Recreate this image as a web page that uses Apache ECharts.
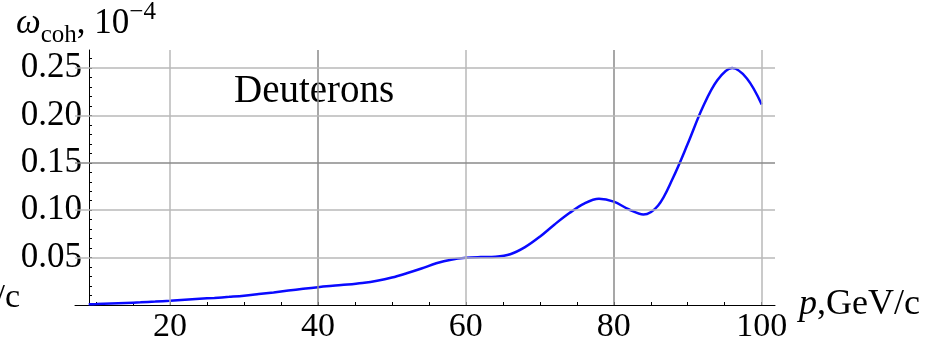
<!DOCTYPE html>
<html>
<head>
    <meta charset="utf-8">
    <title>Deuterons</title>
    <script src="https://cdn.jsdelivr.net/npm/echarts@6/dist/echarts.min.js"></script>
</head>
<body style="margin:0">
    <div id="main" style="width: 933px;height:344px;"></div>
    <script type="text/javascript">
        // momentum p, GeV/c and coherent probability (units of 1e-4)
        var momentum = [9, 10, 12, 14, 16, 18, 20, 22, 24, 26, 28, 30, 32, 34, 36, 38, 40, 42, 44, 46, 48, 50,
            52, 54, 56, 58, 60, 62, 64, 66, 68, 70, 72, 74, 76, 78, 80, 82, 84, 86, 88, 90, 92, 94, 96, 98, 100];
        var omega = [0.0008, 0.0010, 0.0016, 0.0022, 0.0028, 0.0036, 0.0045, 0.0055, 0.0065, 0.0075, 0.0086, 0.0098,
            0.0115, 0.0133, 0.0152, 0.0171, 0.0188, 0.0202, 0.0215, 0.0232, 0.0256, 0.0290,
            0.0335, 0.0385, 0.0440, 0.0478, 0.0498, 0.0506, 0.0510, 0.0535, 0.0610, 0.0720, 0.0850, 0.0970, 0.1070, 0.1120,
            0.1090, 0.1010, 0.0955, 0.1050, 0.1340, 0.1700, 0.2080, 0.2370, 0.2500, 0.2390, 0.2116];

        var xLabels = [20, 40, 60, 80, 100];
        var xMinorTicks = [10, 15, 20, 25, 30, 35, 40, 45, 50, 55, 60, 65, 70, 75, 80, 85, 90, 95, 100];
        var yLabels = [0.05, 0.10, 0.15, 0.20, 0.25];
        var yMinorTicks = [];
        for (var i = 1; i <= 26; i++) yMinorTicks.push(i / 100);

        var light = '#b9b9b9', dark = '#8a8a8a';
        var vGrid = [[20, light], [40, dark], [60, light], [80, dark], [100, light]];
        var hGrid = [[0.05, light], [0.10, light], [0.15, dark], [0.20, light], [0.25, light]];

        var serif = 'Liberation Serif';
        var myChart = echarts.init(document.getElementById('main'));

        var gridLines = vGrid.map(function (g) {
            return { xAxis: g[0], lineStyle: { color: g[1] } };
        }).concat(hGrid.map(function (g) {
            return { yAxis: g[0], lineStyle: { color: g[1] } };
        }));

        var option = {
            animation: false,
            grid: { left: 75, right: 158, top: 50, bottom: 37 },
            xAxis: {
                type: 'value',
                min: 7.15,
                max: 101.8,
                name: '{i|p},GeV/c',
                nameLocation: 'end',
                nameGap: 24,
                nameTextStyle: {
                    fontFamily: serif, fontSize: 36, color: '#000',
                    rich: { i: { fontFamily: serif, fontStyle: 'italic', fontSize: 36, color: '#000' } }
                },
                axisLine: { lineStyle: { color: '#000', width: 1 } },
                axisTick: { inside: true, length: 3, customValues: xMinorTicks, lineStyle: { color: '#000' } },
                axisLabel: { customValues: xLabels, fontFamily: serif, fontSize: 34, color: '#000', margin: 5 },
                splitLine: { show: false }
            },
            yAxis: {
                type: 'value',
                min: 0,
                max: 0.269,
                offset: -14,
                axisLine: { show: true, lineStyle: { color: '#000', width: 1 } },
                axisTick: { show: true, inside: true, length: 3, customValues: yMinorTicks, lineStyle: { color: '#000' } },
                axisLabel: {
                    customValues: yLabels,
                    fontFamily: serif, fontSize: 35, color: '#000', margin: 7,
                    formatter: function (v) { return v.toFixed(2); }
                },
                splitLine: { show: false }
            },
            graphic: [
                {
                    type: 'text', left: 16, top: 0,
                    style: {
                        text: '{w|ω}{s|coh}{n|, 10}{e|−4}',
                        rich: {
                            w: { fontFamily: serif, fontStyle: 'italic', fontSize: 35, fill: '#000', verticalAlign: 'bottom' },
                            s: { fontFamily: serif, fontSize: 25, fill: '#000', padding: [0, 0, -7, 0], verticalAlign: 'bottom' },
                            n: { fontFamily: serif, fontSize: 35, fill: '#000', verticalAlign: 'bottom' },
                            e: { fontFamily: serif, fontSize: 25, fill: '#000', padding: [0, 0, 16, 0], verticalAlign: 'bottom' }
                        }
                    }
                },
                {
                    type: 'text', left: 234, top: 72,
                    style: { text: 'Deuterons', font: '39px "Liberation Serif"', fill: '#000' }
                },
                {
                    type: 'text', right: 913, top: 281,
                    style: { text: 'GeV/c', font: '34px "Liberation Serif"', fill: '#000' }
                }
            ],
            series: [
                {
                    type: 'line',
                    data: [],
                    z: 1,
                    silent: true,
                    markLine: {
                        silent: true,
                        symbol: 'none',
                        label: { show: false },
                        lineStyle: { type: 'solid', width: 1.5 },
                        data: gridLines
                    }
                },
                {
                    type: 'line',
                    z: 3,
                    data: momentum.map(function (p, k) { return [p, omega[k]]; }),
                    smooth: 0.35,
                    showSymbol: false,
                    lineStyle: { color: '#0a0aff', width: 2.5 }
                }
            ]
        };

        myChart.setOption(option);
    </script>
</body>
</html>
